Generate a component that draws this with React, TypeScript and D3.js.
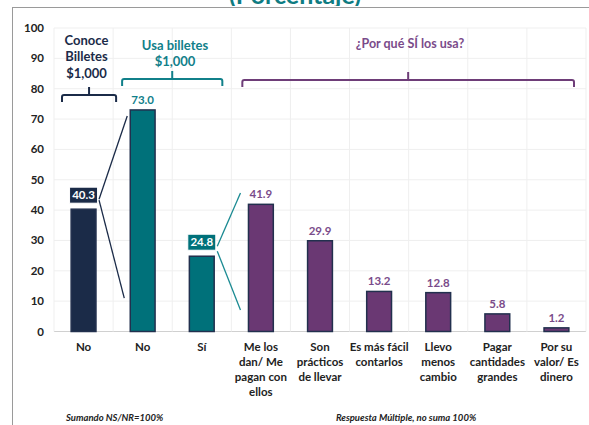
import React from "react";
import * as d3 from "d3";

const categories: string[][] = [
  ["No"],
  ["No"],
  ["Sí"],
  ["Me los", "dan/ Me", "pagan con", "ellos"],
  ["Son", "prácticos", "de llevar"],
  ["Es más fácil", "contarlos"],
  ["Llevo", "menos", "cambio"],
  ["Pagar", "cantidades", "grandes"],
  ["Por su", "valor/ Es", "dinero"],
];
const values: number[] = [40.3, 73.0, 24.8, 41.9, 29.9, 13.2, 12.8, 5.8, 1.2];
const groups: number[] = [0, 1, 1, 2, 2, 2, 2, 2, 2];
const yTicks: number[] = d3.range(0, 101, 10);
const groupTitles: string[][] = [["Conoce", "Billetes", "$1,000"], ["Usa billetes", "$1,000"], ["¿Por qué SÍ los usa?"]];
const title = "(Porcentaje)";
const notes: string[] = ["Sumando NS/NR=100%", "Respuesta Múltiple, no suma 100%"];

const W = 589;
const H = 425;
const FONT = "Lato, 'Open Sans', sans-serif";
const fills = ["#1b2b48", "#00717a", "#6a3873"];
const textCols = ["#1b2b48", "#11808a", "#7a4b8a"];

export default function App() {
  const x = d3
    .scaleBand<number>()
    .domain(d3.range(categories.length))
    .range([54, 586])
    .paddingInner(0.58)
    .paddingOuter(0.29);
  const y = d3.scaleLinear().domain([0, 100]).range([331.5, 28]);
  const step = x.step();
  const x0 = 54;
  const bw = x.bandwidth();
  const cx = (i: number) => (x(i) as number) + bw / 2;

  const braces = [
    { g: 0, a: 0, b: 0, v: 77.9, li: 8, ri: -3 },
    { g: 1, a: 1, b: 2, v: 83.2, li: 9, ri: 9 },
    { g: 2, a: 3, b: 8, v: 82.9, li: 11, ri: 12 },
  ];

  return (
    <svg width={W} height={H} style={{ position: "absolute", left: 0, top: 0, background: "#fff" }} fontFamily={FONT}>
      <defs>
        <clipPath id="titleClip">
          <rect x={0} y={0} width={W} height={6} />
        </clipPath>
      </defs>
      <g clipPath="url(#titleClip)">
        <text x={295} y={3.5} textAnchor="middle" fontSize={25} fontWeight={700} fill="#0f7c82">
          {title}
        </text>
      </g>
      <line x1={12} x2={W} y1={7.5} y2={7.5} stroke="#9a9a9a" strokeWidth={1} />
      <line x1={12.5} x2={12.5} y1={7} y2={H} stroke="#9a9a9a" strokeWidth={1} />

      {yTicks.map((t) => (
        <line key={"h" + t} x1={54} x2={586} y1={y(t)} y2={y(t)} stroke={t === 0 ? "#d0d0d0" : "#efefef"} strokeWidth={1} />
      ))}
      {d3.range(categories.length + 1).map((i) => (
        <line key={"v" + i} x1={x0 + i * step} x2={x0 + i * step} y1={y(100)} y2={y(0)} stroke="#efefef" strokeWidth={1} />
      ))}
      {yTicks.map((t) => (
        <text key={"t" + t} x={44} y={y(t)} dy="0.35em" textAnchor="end" fontSize={11.5} fontWeight={700} fill="#222">
          {t}
        </text>
      ))}

      {values.map((v, i) => (
        <rect
          key={"b" + i}
          x={x(i)}
          y={y(v)}
          width={bw}
          height={y(0) - y(v)}
          fill={fills[groups[i]]}
          stroke="#22304e"
          strokeWidth={1.5}
        />
      ))}

      {values.map((v, i) => {
        const label = v.toFixed(1);
        if (i === 0 || i === 2) {
          const bx = cx(i);
          const by = y(v) - 14;
          return (
            <g key={"l" + i}>
              <rect x={bx - 14} y={by - 8} width={28} height={16} fill={fills[groups[i]]} stroke="#fff" strokeWidth={1} />
              <text x={bx} y={by} dy="0.35em" textAnchor="middle" fontSize={11.5} fontWeight={700} fill="#fff">
                {label}
              </text>
            </g>
          );
        }
        return (
          <text key={"l" + i} x={cx(i)} y={y(v) - 10} dy="0.35em" textAnchor="middle" fontSize={11.5} fontWeight={700} fill={textCols[groups[i]]}>
            {label}
          </text>
        );
      })}

      {(() => {
        const sx = cx(0) + 15.5;
        const sy = y(values[0]) - 10;
        const tx = x(1) as number;
        return (
          <g stroke={fills[0]} strokeWidth={1.3}>
            <line x1={sx} y1={sy} x2={tx - 3} y2={y(71)} />
            <line x1={sx} y1={sy + 1} x2={tx - 6} y2={y(11)} />
          </g>
        );
      })()}
      {(() => {
        const sx = cx(2) + 15.5;
        const sy = y(values[2]) - 8;
        const tx = x(3) as number;
        return (
          <g stroke="#1a8a92" strokeWidth={1.3}>
            <line x1={sx} y1={sy - 2} x2={tx - 8} y2={y(45.6)} />
            <line x1={sx} y1={sy + 3} x2={tx - 8} y2={y(7.1)} />
          </g>
        );
      })()}

      {braces.map((b) => {
        const xa = x0 + b.a * step + b.li;
        const xb = x0 + (b.b + 1) * step - b.ri;
        const yy = y(b.v);
        const xm = (xa + xb) / 2;
        const c = b.g === 2 ? "#6e3d78" : b.g === 1 ? "#11808a" : fills[0];
        return (
          <path
            key={"br" + b.g}
            d={`M${xa},${yy + 7} L${xa},${yy + 2} Q${xa},${yy} ${xa + 2},${yy} L${xb - 2},${yy} Q${xb},${yy} ${xb},${yy + 2} L${xb},${yy + 7} M${xm},${yy} L${xm},${yy - 8}`}
            fill="none"
            stroke={c}
            strokeWidth={2}
          />
        );
      })}
      {groupTitles[0].map((s, k) => (
        <text key={"g0" + k} x={86.5} y={40 + k * 16.5} dy="0.35em" textAnchor="middle" fontSize={13} fontWeight={700} fill={textCols[0]}>
          {s}
        </text>
      ))}
      {groupTitles[1].map((s, k) => (
        <text key={"g1" + k} x={175} y={45 + k * 16.5} dy="0.35em" textAnchor="middle" fontSize={13} fontWeight={700} fill={textCols[1]}>
          {s}
        </text>
      ))}
      {groupTitles[2].map((s, k) => (
        <text key={"g2" + k} x={410} y={44} dy="0.35em" textAnchor="middle" fontSize={12.5} fontWeight={700} fill={textCols[2]}>
          {s}
        </text>
      ))}

      {categories.map((lines, i) =>
        lines.map((s, k) => (
          <text key={"x" + i + "-" + k} x={cx(i)} y={347 + k * 15} dy="0.35em" textAnchor="middle" fontSize={11.5} fontWeight={700} fill="#222">
            {s}
          </text>
        ))
      )}

      <text x={66} y={418} dy="0.35em" fontSize={9.5} fontStyle="italic" fontWeight={700} fill="#222">
        {notes[0]}
      </text>
      <text x={406} y={418} dy="0.35em" textAnchor="middle" fontSize={9.5} fontStyle="italic" fontWeight={700} fill="#222">
        {notes[1]}
      </text>
    </svg>
  );
}
